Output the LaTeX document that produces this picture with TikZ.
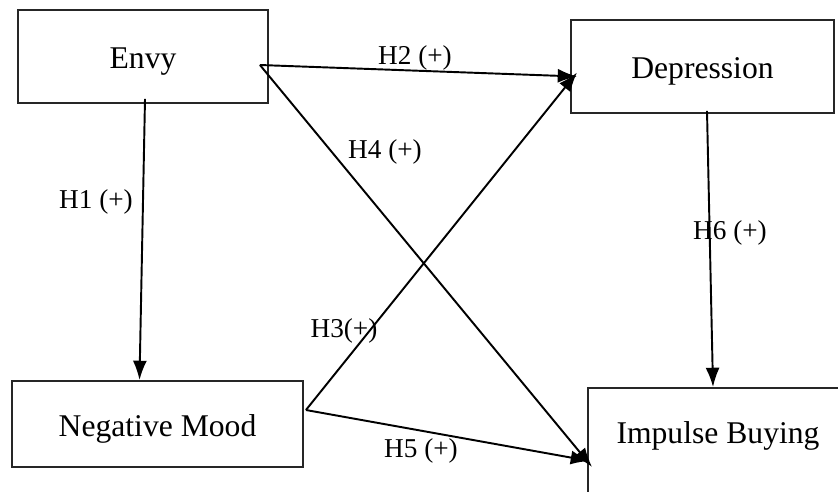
\documentclass[tikz,border=0pt]{standalone}
\usepackage{fontspec}
\setmainfont{Liberation Serif}
\usetikzlibrary{calc}
\usetikzlibrary{arrows.meta}

\tikzset{
  var/.style = {draw = black!85, line width = 1.1pt, rectangle,
    font = \fontsize{18}{20}\selectfont, inner sep = 0pt,
    text height = 18pt, text depth = 4pt},
  hyp/.style = {line width = 1.1pt, -{Latex[length = 11pt, width = 8pt]}},
  lbl/.style = {font = \fontsize{15.5}{17}\selectfont, inner sep = 0pt}
}

\begin{document}
\begin{tikzpicture}[x = 0.02cm, y = -0.02cm]
  \useasboundingbox (0, 0) rectangle (838, 491);
  \clip (0, 0) rectangle (838, 491);

  \node[var, minimum width = 5cm, minimum height = 1.86cm] (envy) at (143, 56.5) {Envy};
  \node[var, minimum width = 5.26cm, minimum height = 1.86cm] (dep) at (702.5, 66.5) {Depression};
  \node[var, minimum width = 5.82cm, minimum height = 1.72cm] (neg) at (157.5, 424) {Negative Mood};
  \node[var, minimum width = 5.2cm, minimum height = 2.2cm, text depth = 17pt]
    (imp) at (718, 443) {Impulse Buying};

  \coordinate (E1) at ($(envy.east) + (-9, 8.5)$);
  \coordinate (N1) at ($(neg.east) + (2, -14)$);

  \draw[hyp] ($(envy.south) + (2, -5)$) -- ($(neg.north) + (-18, 0)$);
  \draw[hyp] (E1) -- ($(dep.west) + (7, 10)$);
  \draw[hyp] (N1) -- ($(dep.west) + (7, 6)$);
  \draw[hyp] (E1) -- ($(imp.west) + (5, 24)$);
  \draw[hyp] (N1) -- ($(imp.west) + (3, 18)$);
  \draw[hyp] ($(dep.south) + (4.5, -3)$) -- ($(imp.north) + (-5, 0)$);

  \node[lbl] (h1) at (96, 202) {H1 (+)};
  \node[lbl] (h2) at (415, 58) {H2 (+)};
  \node[lbl] (h3) at (344, 331) {H3(+)};
  \node[lbl] (h4) at (385, 152) {H4 (+)};
  \node[lbl] (h5) at (421, 451) {H5 (+)};
  \node[lbl] (h6) at (730, 233) {H6 (+)};
\end{tikzpicture}
\end{document}
